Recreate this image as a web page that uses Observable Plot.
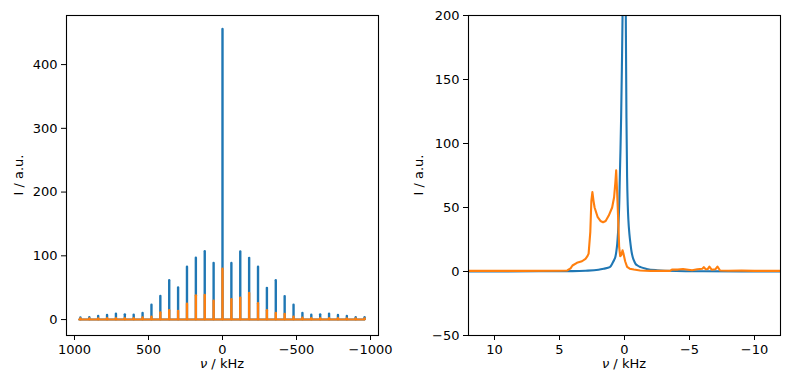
<!DOCTYPE html>
<html><head><meta charset="utf-8">
<script src="https://cdn.jsdelivr.net/npm/d3@7"></script>
<script src="https://cdn.jsdelivr.net/npm/@observablehq/plot@0.6"></script>
<style>
body{margin:0;background:#fff;}
#wrap{position:relative;width:790px;height:390px;background:#fff;font-family:"DejaVu Sans",sans-serif;}
#wrap > svg{position:absolute;top:0;}
#overlay{position:absolute;left:0;top:0;pointer-events:none;}
</style></head><body>
<div id="wrap"></div>
<script>
// ---- Left panel: spinning sidebands (kHz) and their heights ----
const sidebandPos = [960,900,840,780,720,660,600,540,480,420,360,300,240,180,120,60,0,-60,-120,-180,-240,-300,-360,-420,-480,-540,-600,-660,-720,-780,-840,-900,-960];
const blueHeights = [2.6,3,4.7,6.3,8.4,7.4,6.8,9.5,22.6,36.3,61,49.5,82,96.3,106.3,87.9,455,88,106,96,82,49,61,36,22.6,9.5,6.8,7.4,8.4,6.3,4.7,3,3];
const orangeHeights = [1,1,1,1.5,1.5,1.5,1.5,2.6,3.7,10.5,14,12.6,24,37.2,37.7,28.8,79,31,33.7,41,24.7,14,9.5,7.9,3.7,2,1.5,1.5,1.5,1.5,1,1,1];
const baselineX = [968,-958];
const baselineY = [0,0];

// ---- Right panel: zoom on the centreband (kHz, intensity) ----
const blueZoomX = [12,9,6,4,3,2,1.6,1.13,0.9,0.8,0.7,0.63,0.56,0.5,0.45,0.4,0.36,0.31,0.26,0.2,0.15,0.03,-0.1,-0.15,-0.2,-0.25,-0.3,-0.38,-0.46,-0.55,-0.64,-0.75,-0.85,-1.0,-1.24,-1.7,-2.5,-4,-6,-9,-12];
const blueZoomY = [0.1,0.1,0.2,0.3,0.6,1.4,2.2,3.4,7,9,11.5,15.5,21.6,30,40,55,73.7,95,120,160,200,455,200,120,73.7,52,40,29,21.6,15,11,8,6,4.7,3.4,2,1,0.4,0.2,0.1,0.1];
const orangeZoomX = [12,8,5,4.4,4.15,4.0,3.66,3.27,3.0,2.85,2.76,2.63,2.55,2.47,2.38,2.3,2.06,1.85,1.65,1.45,1.21,0.95,0.8,0.7,0.64,0.58,0.52,0.41,0.33,0.26,0.15,0.08,-0.05,-0.2,-0.4,-0.72,-1.2,-2,-3.5,-3.65,-4.1,-4.5,-4.9,-5.2,-5.6,-6.0,-6.1,-6.25,-6.4,-6.53,-6.7,-7.0,-7.15,-7.35,-8,-9,-10,-12];
const orangeZoomY = [0.5,0.5,0.6,0.8,2.5,4.7,6.8,8,9.9,12,14,31,55,62,55,50,42.4,39.5,38.5,39.5,43.7,50,58,70,79,65,50,19,12,12.5,16.5,14,8,3.6,2.2,1.5,0.8,0.5,0.5,1.5,1.5,2,1.4,1.0,1.8,2.2,3.4,1.8,1.9,3.9,1.4,1.8,3.9,0.8,0.6,0.7,0.5,0.5];

// ---- Ticks ----
const leftXTicks = [1000,500,0,-500,-1000];
const leftYTicks = [0,100,200,300,400];
const rightXTicks = [10,5,0,-5,-10];
const rightYTicks = [-50,0,50,100,150,200];

const BLUE = "#1f77b4", ORANGE = "#ff7f0e";
const LW = 2.1;
const fmt = d3.format("d");

const blueSticks = sidebandPos.map((x,i)=>({x, y: blueHeights[i]}));
const orangeSticks = sidebandPos.map((x,i)=>({x, y: orangeHeights[i]}));
const baseline = baselineX.map((x,i)=>({x, y: baselineY[i]}));
const blueZoom = blueZoomX.map((x,i)=>({x, y: blueZoomY[i]}));
const orangeZoom = orangeZoomX.map((x,i)=>({x, y: orangeZoomY[i]}));

const style = {fontFamily:"DejaVu Sans", fontSize:"13px", color:"black", background:"transparent", overflow:"visible"};

const left = Plot.plot({
  width: 395, height: 390,
  marginLeft: 66, marginRight: 17, marginTop: 15, marginBottom: 55,
  x: {domain: [1054, -1054]},
  y: {domain: [-25, 477]},
  style,
  marks: [
    Plot.ruleX(blueSticks, {x:"x", y1: 0, y2:"y", stroke: BLUE, strokeWidth: 2.4, strokeLinecap:"round"}),
    Plot.line(baseline, {x:"x", y:"y", stroke: BLUE, strokeWidth: LW}),
    Plot.line(baseline, {x:"x", y:"y", stroke: ORANGE, strokeWidth: LW}),
    Plot.ruleX(orangeSticks, {x:"x", y1: 0, y2:"y", stroke: ORANGE, strokeWidth: 2.4, strokeLinecap:"round"}),
    Plot.frame({stroke:"black", strokeWidth: 1.1}),
    Plot.axisX({ticks: leftXTicks, tickFormat: fmt, tickSize: 5, tickPadding: 4, label: null}),
    Plot.axisY({ticks: leftYTicks, tickFormat: fmt, tickSize: 5, tickPadding: 4, label: null})
  ]
});

const right = Plot.plot({
  width: 395, height: 390,
  marginLeft: 73, marginRight: 10, marginTop: 15, marginBottom: 55,
  x: {domain: [12, -12]},
  y: {domain: [-50, 200]},
  style,
  marks: [
    Plot.line(blueZoom, {x:"x", y:"y", stroke: BLUE, strokeWidth: LW, clip: true, curve: "monotone-x"}),
    Plot.line(orangeZoom, {x:"x", y:"y", stroke: ORANGE, strokeWidth: LW, clip: true}),
    Plot.frame({stroke:"black", strokeWidth: 1.1}),
    Plot.axisX({ticks: rightXTicks, tickFormat: fmt, tickSize: 5, tickPadding: 4, label: null}),
    Plot.axisY({ticks: rightYTicks, tickFormat: fmt, tickSize: 5, tickPadding: 4, label: null})
  ]
});

const wrap = document.getElementById("wrap");
left.style.left = "0px";
right.style.left = "395px";
wrap.appendChild(left);
wrap.appendChild(right);

// axis titles
const ns = "http://www.w3.org/2000/svg";
const ov = document.createElementNS(ns, "svg");
ov.setAttribute("id","overlay");
ov.setAttribute("width","790"); ov.setAttribute("height","390");
ov.setAttribute("font-family","DejaVu Sans"); ov.setAttribute("font-size","13");
function xTitle(cx){
  const t = document.createElementNS(ns,"text");
  t.setAttribute("x", cx); t.setAttribute("y", 368); t.setAttribute("text-anchor","middle");
  const nu = document.createElementNS(ns,"tspan"); nu.setAttribute("font-style","italic"); nu.textContent = "ν";
  const rest = document.createElementNS(ns,"tspan"); rest.textContent = " / kHz";
  t.appendChild(nu); t.appendChild(rest); ov.appendChild(t);
}
function yTitle(bx){
  const t = document.createElementNS(ns,"text");
  t.setAttribute("transform", `translate(${bx},175) rotate(-90)`); t.setAttribute("text-anchor","middle");
  t.textContent = "I / a.u."; ov.appendChild(t);
}
xTitle(222); xTitle(624);
yTitle(22.5); yTitle(422.5);
wrap.appendChild(ov);
</script>
</body></html>
